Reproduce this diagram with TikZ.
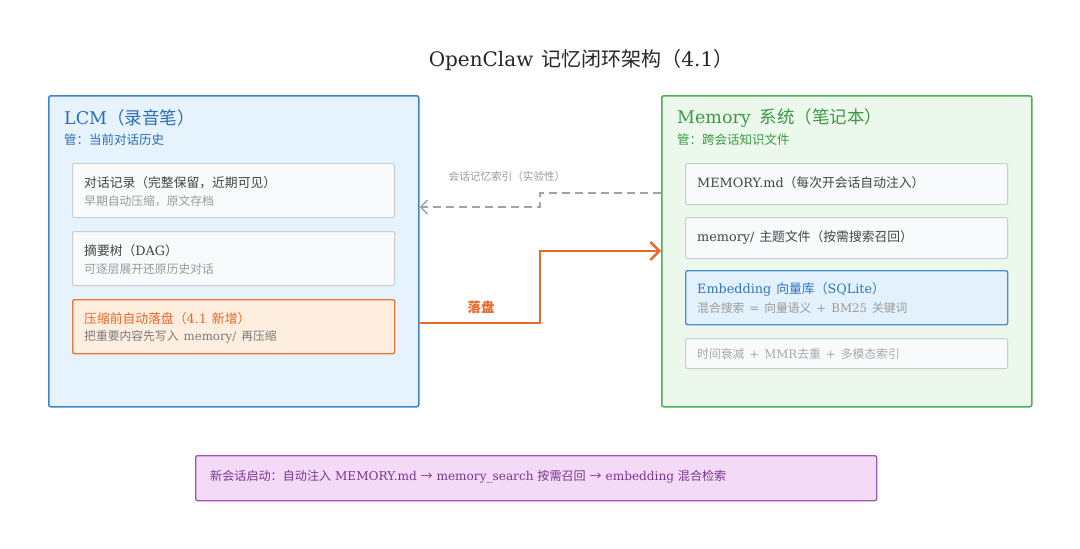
\documentclass[tikz,border=0pt]{standalone}
\usepackage{fontspec}
\setmainfont{DejaVu Serif}
\newfontfamily\cjk{Noto Sans CJK SC}
\usetikzlibrary{arrows.meta}
\newcommand\mygap{\hspace{5pt}}
\definecolor{lcmfill}{HTML}{E6F3FD}
\definecolor{lcmdraw}{HTML}{3D85C9}
\definecolor{lcmtext}{HTML}{2A6DB5}
\definecolor{memfill}{HTML}{ECF8EB}
\definecolor{memdraw}{HTML}{4CAF55}
\definecolor{memtext}{HTML}{3A9A45}
\definecolor{orgfill}{HTML}{FDEEDF}
\definecolor{orgdraw}{HTML}{EC7634}
\definecolor{orgtext}{HTML}{E8692A}
\definecolor{embfill}{HTML}{E3F1FC}
\definecolor{embdraw}{HTML}{4A8FD0}
\definecolor{embtext}{HTML}{2F75BD}
\definecolor{boxfill}{HTML}{F8FAFB}
\definecolor{boxdraw}{HTML}{C8CED3}
\definecolor{ttlgray}{HTML}{444444}
\definecolor{subgray}{HTML}{9A9A9A}
\definecolor{dashgray}{HTML}{A3A3A3}
\definecolor{purfill}{HTML}{F3DAF7}
\definecolor{purdraw}{HTML}{A253BA}
\definecolor{purtext}{HTML}{7B3590}
\tikzset{
  bigbox/.style={draw, line width=1.5pt, rounded corners=2pt, minimum width=370pt, minimum height=311pt, anchor=north west, inner sep=0pt},
  ibox/.style={draw=boxdraw, fill=boxfill, line width=1pt, rounded corners=2pt, minimum width=322pt, anchor=north west, inner sep=0pt},
  ttl/.style={anchor=west, inner sep=0pt, text=ttlgray, font=\fontsize{12.8}{14}\selectfont},
  sub/.style={anchor=west, inner sep=0pt, text=subgray, font=\fontsize{11.8}{13}\selectfont},
  head/.style={anchor=west, inner sep=0pt, font=\fontsize{17.5}{19}\selectfont},
  manage/.style={anchor=west, inner sep=0pt, font=\fontsize{12.5}{14}\selectfont},
}
\begin{document}
\begin{tikzpicture}[x=1pt,y=-1pt]
\useasboundingbox (0,0) rectangle (1080,549);
\fill[white] (0,0) rectangle (1080,549);
% title
\node[inner sep=0pt, anchor=center, font=\fontsize{20}{22}\selectfont, text=black!85] (title) at (581,60) {OpenClaw\hspace{8pt}{\cjk 记忆闭环架构（}4.1{\cjk ）}};
% LCM
\node[bigbox, draw=lcmdraw, fill=lcmfill] (lcm) at (48,95) {};
\node[head, text=lcmtext] (lcmh) at (64,118) {LCM{\cjk （录音笔）}};
\node[manage, text=lcmtext] (lcms) at (64,140) {\cjk 管：当前对话历史};
\node[ibox, minimum height=54pt] (l1) at (72,163) {};
\node[ttl] (l1t) at (84,183) {\cjk 对话记录（完整保留，近期可见）};
\node[sub] (l1s) at (84,201) {\cjk 早期自动压缩，原文存档};
\node[ibox, minimum height=54pt] (l2) at (72,231) {};
\node[ttl] (l2t) at (84,251) {{\cjk 摘要树（}DAG{\cjk ）}};
\node[sub] (l2s) at (84,269) {\cjk 可逐层展开还原历史对话};
\node[ibox, minimum height=54pt, draw=orgdraw, fill=orgfill, line width=1.4pt] (l3) at (72,299) {};
\node[ttl, text=orgtext] (l3t) at (84,319) {{\cjk 压缩前自动落盘（}4.1\mygap{\cjk 新增）}};
\node[sub, text=subgray!80!black] (l3s) at (84,337) {{\cjk 把重要内容先写入}\mygap memory/\mygap{\cjk 再压缩}};
% Memory
\node[bigbox, draw=memdraw, fill=memfill] (mem) at (661,95) {};
\node[head, text=memtext] (memh) at (677,118) {Memory\hspace{9pt}{\cjk 系统（笔记本）}};
\node[manage, text=memtext] (mems) at (677,140) {\cjk 管：跨会话知识文件};
\node[ibox, minimum height=41pt] (m1) at (685,163) {};
\node[ttl] (m1t) at (697,183) {MEMORY.md{\cjk （每次开会话自动注入）}};
\node[ibox, minimum height=41pt] (m2) at (685,217) {};
\node[ttl] (m2t) at (697,237) {memory/\mygap{\cjk 主题文件（按需搜索召回）}};
\node[ibox, minimum height=54pt, draw=embdraw, fill=embfill, line width=1.4pt] (m3) at (685,270) {};
\node[ttl, text=embtext] (m3t) at (697,289) {Embedding\mygap{\cjk 向量库（}SQLite{\cjk ）}};
\node[sub] (m3s) at (697,308) {{\cjk 混合搜索}\mygap=\mygap{\cjk 向量语义}\mygap+\mygap BM25\mygap{\cjk 关键词}};
\node[ibox, minimum height=30pt] (m4) at (685,338) {};
\node[sub, text=subgray!85] (m4t) at (697,354) {{\cjk 时间衰减}\mygap+\mygap MMR{\cjk 去重}\mygap+\mygap{\cjk 多模态索引}};
% connectors
\coordinate (d1) at (540,193);
\coordinate (d2) at (540,207);
\draw[dashgray, line width=1.5pt, dash pattern=on 8pt off 5pt, -{Straight Barb[length=7pt,width=14pt]}]
  (mem.west |- d1) -- (d1) -- (d2) -- (lcm.east |- d2);
\node[inner sep=0pt, text=subgray, font=\fontsize{10.6}{12}\selectfont] (dlab) at (507,176) {\cjk 会话记忆索引（实验性）};
\coordinate (o1) at (540,323);
\coordinate (o2) at (540,251);
\draw[orgtext, line width=2.4pt, -{Straight Barb[length=9pt,width=18pt]}]
  (lcm.east |- o1) -- (o1) -- (o2) -- (mem.west |- o2);
\node[inner sep=0pt, text=orgtext, font=\fontsize{13.5}{15}\selectfont] (olab) at (481,307) {\cjk\bfseries 落盘};
% bottom
\node[draw=purdraw, fill=purfill, line width=1.3pt, rounded corners=2pt, minimum width=681pt, minimum height=45pt, anchor=north west, inner sep=0pt] (bot) at (195,455) {};
\node[inner sep=0pt, anchor=west, text=purtext, font=\fontsize{12.1}{14}\selectfont] (bott) at (210,477) {{\cjk 新会话启动：自动注入} MEMORY.md {\cjk →} memory\_search {\cjk 按需召回} {\cjk →} embedding {\cjk 混合检索}};
\end{tikzpicture}
\end{document}
